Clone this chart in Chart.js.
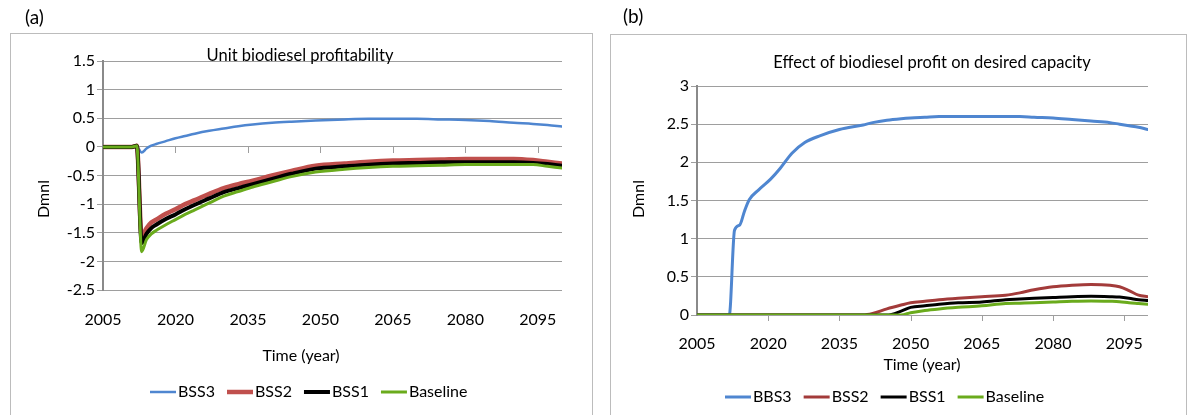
<!DOCTYPE html>
<html>
<head>
<meta charset="utf-8">
<title>Biodiesel profitability</title>
<script src="https://cdn.jsdelivr.net/npm/chart.js@4.4.1/dist/chart.umd.min.js"></script>
<style>
  body { margin: 0; background: #fff; width: 1187px; height: 415px; overflow: hidden; position: relative; }
  .frame { position: absolute; border: 1px solid #bcbcbc; }
  #frame-a { left: 10px; top: 33px; width: 581px; height: 420px; }
  #frame-b { left: 610px; top: 34px; width: 575px; height: 420px; }
  canvas { position: absolute; top: 0; }
  #chart-a { left: 0; }
  #chart-b { left: 600px; }
</style>
</head>
<body>
<div class="frame" id="frame-a"></div>
<div class="frame" id="frame-b"></div>
<canvas id="chart-a" width="600" height="415"></canvas>
<canvas id="chart-b" width="587" height="415"></canvas>
<script>
// x axis: years and the labelled ticks
const xTicks = [2005, 2020, 2035, 2050, 2065, 2080, 2095];

// (a) Unit biodiesel profitability
const yearsA = [2005, 2008, 2011, 2012, 2013, 2014, 2015, 2016, 2018, 2020, 2022, 2024, 2027, 2030, 2033,
                2036, 2040, 2044, 2049, 2055, 2060, 2065, 2070, 2075, 2080, 2085, 2090, 2094, 2097, 2100];
const bss3A = [0, 0, 0, 0.01, -0.10, -0.03, 0.02, 0.05, 0.10, 0.15, 0.19, 0.23, 0.28, 0.32, 0.36,
               0.39, 0.42, 0.44, 0.46, 0.48, 0.49, 0.49, 0.49, 0.48, 0.47, 0.45, 0.42, 0.40, 0.38, 0.355];
const bss2A = [0, 0, 0, 0.02, -1.57, -1.42, -1.32, -1.27, -1.17, -1.09, -1.00, -0.93, -0.82, -0.72, -0.65,
               -0.59, -0.50, -0.42, -0.33, -0.29, -0.26, -0.24, -0.23, -0.22, -0.21, -0.21, -0.21, -0.23, -0.26, -0.29];
const bss1A = [0, 0, 0, 0.02, -1.68, -1.52, -1.42, -1.36, -1.26, -1.18, -1.09, -1.01, -0.90, -0.79, -0.72,
               -0.65, -0.56, -0.47, -0.38, -0.34, -0.31, -0.29, -0.28, -0.27, -0.27, -0.27, -0.27, -0.28, -0.30, -0.33];
const baseA = [0, 0, 0, 0.02, -1.83, -1.62, -1.52, -1.46, -1.36, -1.27, -1.18, -1.10, -0.98, -0.86, -0.78,
               -0.70, -0.61, -0.52, -0.44, -0.39, -0.36, -0.34, -0.33, -0.32, -0.31, -0.31, -0.31, -0.31, -0.34, -0.37];
const yTicksA = [-2.5, -2, -1.5, -1, -0.5, 0, 0.5, 1, 1.5];

// (b) Effect of biodiesel profit on desired capacity
const yearsB = [2005, 2011.8, 2012.9, 2014, 2015, 2016, 2018, 2020.5, 2022.5, 2025, 2027.7, 2031, 2035, 2040, 2042,
                2045, 2048, 2050, 2053, 2056, 2060, 2065, 2070, 2073, 2076, 2080, 2084, 2088, 2092, 2094, 2096, 2098, 2100];
const bbs3B = [0, 0, 1.11, 1.18, 1.36, 1.51, 1.64, 1.78, 1.92, 2.12, 2.26, 2.35, 2.43, 2.49, 2.52,
               2.55, 2.57, 2.58, 2.59, 2.60, 2.60, 2.60, 2.60, 2.60, 2.59, 2.58, 2.56, 2.54, 2.52, 2.50, 2.48, 2.46, 2.43];
const bss2B = [0, 0, 0, 0, 0, 0, 0, 0, 0, 0, 0, 0, 0, 0, 0.02,
               0.08, 0.13, 0.16, 0.18, 0.20, 0.22, 0.24, 0.26, 0.29, 0.33, 0.37, 0.39, 0.40, 0.39, 0.37, 0.32, 0.26, 0.24];
const bss1B = [0, 0, 0, 0, 0, 0, 0, 0, 0, 0, 0, 0, 0, 0, 0,
               0, 0.05, 0.10, 0.12, 0.14, 0.16, 0.17, 0.20, 0.21, 0.22, 0.23, 0.24, 0.245, 0.24, 0.235, 0.22, 0.20, 0.19];
const baseB = [0, 0, 0, 0, 0, 0, 0, 0, 0, 0, 0, 0, 0, 0, 0,
               0, 0, 0.03, 0.06, 0.08, 0.10, 0.12, 0.15, 0.155, 0.16, 0.17, 0.18, 0.185, 0.18, 0.175, 0.16, 0.15, 0.14];
const yTicksB = [0, 0.5, 1, 1.5, 2, 2.5, 3];

const FONT = 'Lato, "Open Sans", sans-serif';
const TEXT = '#000';
const GRID = '#9e9e9e';
const AXIS = '#8a8a8a';

function points(years, values) {
  return years.map((x, i) => ({ x: x, y: values[i] }));
}

function line(label, years, values, color, width, order) {
  return {
    label: label,
    data: points(years, values),
    borderColor: color,
    backgroundColor: color,
    borderWidth: width,
    pointRadius: 0,
    cubicInterpolationMode: 'monotone',
    borderJoinStyle: 'round',
    borderCapStyle: 'round',
    order: order
  };
}

// small tick marks along the zero line, under each year label
const zeroTicks = {
  id: 'zeroTicks',
  beforeDatasetsDraw(chart) {
    const { ctx, scales: { x, y } } = chart;
    const y0 = Math.round(y.getPixelForValue(0));
    ctx.save();
    ctx.strokeStyle = GRID;
    ctx.lineWidth = 1;
    x.ticks.forEach((t, i) => {
      if (i === 0) return;
      const px = Math.round(x.getPixelForValue(t.value)) + 0.5;
      ctx.beginPath();
      ctx.moveTo(px, y0);
      ctx.lineTo(px, y0 + 6);
      ctx.stroke();
    });
    ctx.restore();
  }
};

// panel letter, title, axis titles and the legend row
const panelText = {
  id: 'panelText',
  afterDraw(chart, args, o) {
    const ctx = chart.ctx;
    ctx.save();
    ctx.fillStyle = TEXT;
    ctx.textBaseline = 'middle';

    ctx.textAlign = 'left';
    ctx.font = '19px ' + FONT;
    ctx.fillText(o.letter, o.letterX, o.letterY);

    ctx.textAlign = 'center';
    ctx.font = '16.5px ' + FONT;
    ctx.fillText(o.title, o.titleX, o.titleY);

    ctx.font = '16px ' + FONT;
    ctx.fillText('Time (year)', o.xTitleX, o.xTitleY);

    ctx.save();
    ctx.translate(o.yTitleX, o.yTitleY);
    ctx.rotate(-Math.PI / 2);
    ctx.fillText('Dmnl', 0, 0);
    ctx.restore();

    ctx.textAlign = 'left';
    let lx = o.legendX;
    const ly = o.legendY;
    chart.data.datasets.forEach(ds => {
      ctx.strokeStyle = ds.borderColor;
      ctx.lineWidth = ds.borderWidth;
      ctx.beginPath();
      ctx.moveTo(lx, ly);
      ctx.lineTo(lx + 26, ly);
      ctx.stroke();
      lx += 28;
      ctx.fillText(ds.label, lx, ly);
      lx += ctx.measureText(ds.label).width + 12;
    });
    ctx.restore();
  }
};

function makeChart(id, datasets, yMin, yMax, yTicks, padding, xPad, text) {
  return new Chart(document.getElementById(id), {
    type: 'line',
    data: { datasets: datasets },
    options: {
      responsive: false,
      animation: false,
      layout: { padding: padding },
      plugins: {
        legend: { display: false },
        tooltip: { enabled: false },
        panelText: text
      },
      scales: {
        x: {
          type: 'linear',
          min: 2005,
          max: 2100,
          afterBuildTicks: s => { s.ticks = xTicks.map(v => ({ value: v })); },
          afterFit: s => { s.height = 40; },
          grid: { display: false, drawTicks: false },
          border: { display: false },
          ticks: {
            padding: xPad,
            color: TEXT,
            font: { family: FONT, size: 16 },
            maxRotation: 0,
            autoSkip: false,
            callback: v => String(v)
          }
        },
        y: {
          min: yMin,
          max: yMax,
          afterBuildTicks: s => { s.ticks = yTicks.map(v => ({ value: v })); },
          afterFit: s => { s.width = 60; },
          grid: { color: GRID, drawTicks: true, tickLength: 6 },
          border: { display: true, color: AXIS, width: 2 },
          ticks: {
            padding: 2,
            color: TEXT,
            font: { family: FONT, size: 16 },
            callback: v => String(v)
          }
        }
      }
    },
    plugins: [zeroTicks, panelText]
  });
}

makeChart('chart-a', [
  line('BSS3', yearsA, bss3A, '#4f86d0', 2.5, 3),
  line('BSS2', yearsA, bss2A, '#c0504d', 4.5, 2),
  line('BSS1', yearsA, bss1A, '#000000', 4, 1),
  line('Baseline', yearsA, baseA, '#6aab1c', 3, 0)
], -2.5, 1.5, yTicksA, { left: 43, right: 38, top: 61, bottom: 85 }, 20, {
  letter: '(a)', letterX: 25, letterY: 18,
  title: 'Unit biodiesel profitability', titleX: 300, titleY: 56,
  xTitleX: 301, xTitleY: 356,
  yTitleX: 44, yTitleY: 199,
  legendX: 150, legendY: 392
});

makeChart('chart-b', [
  line('BBS3', yearsB, bbs3B, '#4f86d0', 3, 3),
  line('BSS2', yearsB, bss2B, '#a33b3a', 3, 2),
  line('BSS1', yearsB, bss1B, '#000000', 3, 1),
  line('Baseline', yearsB, baseB, '#6aab1c', 3, 0)
], 0, 3, yTicksB, { left: 37, right: 39, top: 86, bottom: 60 }, 19, {
  letter: '(b)', letterX: 23, letterY: 17,
  title: 'Effect of biodiesel profit on desired capacity', titleX: 332, titleY: 63,
  xTitleX: 322, xTitleY: 365,
  yTitleX: 39, yTitleY: 199,
  legendX: 125, legendY: 397
});
</script>
</body>
</html>
